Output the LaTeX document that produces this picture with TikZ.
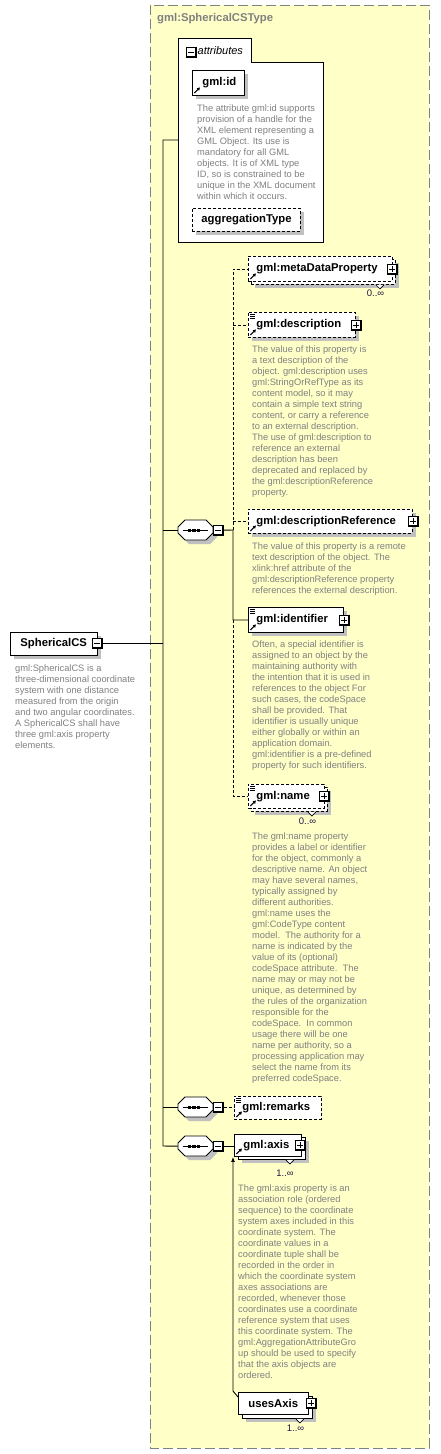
\documentclass[tikz,border=0pt]{standalone}
\usepackage{fontspec}
\setmainfont{Liberation Sans}
\usetikzlibrary{shadows,arrows.meta}
\definecolor{typeyellow}{RGB}{255,255,200}
\definecolor{descgray}{RGB}{128,128,128}
\definecolor{shadowgray}{RGB}{192,192,192}
\definecolor{bordergray}{RGB}{128,128,128}
\definecolor{occcol}{RGB}{40,20,70}
\newcommand\fs{\rule{0pt}{8pt}}
\newcommand\xrefic{\draw[solid,line width=1pt,-{Triangle[length=3pt,width=3.2pt]}] ([shift={(2pt,2.5pt)}]path picture bounding box.south west) -- ++(5.5pt,5.5pt);}
\newcommand\xsimic{\foreach \kk in {2,4,6}{\draw[solid,line width=0.7pt] ([shift={(1.5pt,-\kk pt)}]path picture bounding box.north west) -- ++(5pt,0pt);}}
\newcommand\seqgroup[3]{%
  \fill[shadowgray, shift={(4,4)}] (#2+7,#3) -- (#2+28,#3) -- (#2+35,#3+7) -- (#2+35,#3+13) -- (#2+28,#3+20) -- (#2+7,#3+20) -- (#2,#3+13) -- (#2,#3+7) -- cycle;
  \draw[fill=white, line width=0.9pt] (#2+7,#3) -- (#2+28,#3) -- (#2+35,#3+7) -- (#2+35,#3+13) -- (#2+28,#3+20) -- (#2+7,#3+20) -- (#2,#3+13) -- (#2,#3+7) -- cycle;
  \node[inner sep=0pt, minimum width=35pt, minimum height=20pt, anchor=north west] (#1) at (#2,#3) {};
  \draw[line width=0.9pt] ([xshift=5pt]#1.west) -- ([xshift=-5pt]#1.east);
  \foreach \dd in {11.5,16,20.5} \fill ([xshift=\dd pt]#1.west) +(-1.6pt,-1.6pt) rectangle +(1.6pt,1.6pt);
  \node[minusic] (#1m) at ([xshift=5pt]#1.east) {};
}
\tikzset{
  elem/.style={draw, fill=white, line width=0.9pt, anchor=north west, inner xsep=0pt, inner ysep=0pt, align=left, font=\fontsize{11.3}{13}\selectfont\bfseries},
  opt/.style={dash pattern=on 3pt off 2pt},
  shad/.style={drop shadow={shadow xshift=4pt, shadow yshift=-4pt, fill=shadowgray, opacity=1}},
  refic/.style={path picture={\xrefic}},
  refsim/.style={path picture={\xrefic\xsimic}},
  desc/.style={anchor=north west, inner sep=0pt, align=left, text=descgray, font=\fontsize{9.3}{11}\selectfont},
  occ/.style={inner sep=0pt, text=occcol, font=\fontsize{9.5}{11}\selectfont},
  icon/.style={draw, fill=white, line width=0.8pt, minimum width=10pt, minimum height=10pt, inner sep=0pt},
  plusic/.style={icon, path picture={
      \draw[line width=0.8pt] ([xshift=2pt]path picture bounding box.west) -- ([xshift=-2pt]path picture bounding box.east);
      \draw[line width=0.8pt] ([yshift=-2pt]path picture bounding box.north) -- ([yshift=2pt]path picture bounding box.south);
      \draw[line width=2.4pt] (path picture bounding box.north east) -- (path picture bounding box.south east) -- (path picture bounding box.south west);}},
  minusic/.style={icon, path picture={
      \draw[line width=0.8pt] ([xshift=2pt]path picture bounding box.west) -- ([xshift=-2pt]path picture bounding box.east);
      \draw[line width=2.4pt] (path picture bounding box.north east) -- (path picture bounding box.south east) -- (path picture bounding box.south west);}},
  conn/.style={line width=0.9pt},
  optline/.style={dash pattern=on 3pt off 2pt},
  notch/.style={fill=white, line width=0.7pt},
}
\begin{document}
\begin{tikzpicture}[x=1pt,y=-1pt]
\useasboundingbox (0,0) rectangle (440,1454);
% complex type box
\draw[fill=typeyellow, draw=bordergray, line width=1pt, dash pattern=on 10pt off 4pt] (150,5) rectangle (429,1448);
\node[anchor=west, inner sep=0pt, text=bordergray, font=\fontsize{11.3}{13}\selectfont\bfseries] (typetitle) at (157,19) {gml:SphericalCSType};

% attributes group
\draw[fill=white, line width=0.9pt] (178,242) -- (178,38) -- (251,38) -- (251,62) -- (323,62) -- (323,242) -- cycle;
\node[minusic] (attrm) at (191,52.5) {};
\node[anchor=west, inner sep=0pt, font=\fontsize{11}{13}\selectfont\itshape] (attrt) at (197.5,50.5) {attributes};
\coordinate (attrL) at (178,140);
\node[elem, shad, refic, text width=52pt, minimum height=25pt] (gmlid) at (192,70) {\hspace*{10pt}gml:id};
\node[desc] (gmliddesc) at (197,103) {\fs The attribute gml:id supports\\provision of a handle for the\\XML element representing a\\GML Object. Its use is\\mandatory for all GML\\objects. It is of XML type\\ID, so is constrained to be\\unique in the XML document\\within which it occurs.};
\node[elem, shad, opt, text width=108pt, minimum height=23pt] (aggr) at (192,208) {\hspace*{9pt}aggregationType};

% root element
\node[elem, shad, text width=87pt, minimum height=23pt] (scs) at (10,632) {\hspace*{10pt}SphericalCS};
\node[minusic] (scsm) at (97,643.5) {};
\node[desc] (scsdesc) at (15,663) {\fs gml:SphericalCS is a\\three-dimensional coordinate\\system with one distance\\measured from the origin\\and two angular coordinates.\\A SphericalCS shall have\\three gml:axis property\\elements.};

% sequences
\seqgroup{seq1}{178}{520}
\seqgroup{seq2}{178}{1097}
\seqgroup{seq3}{178}{1136}

% metaDataProperty
\node[elem, shad, opt, text width=144pt, minimum height=25pt] (metab) at (251,259) {};
\draw[notch] ([xshift=-20pt]metab.south east) -- ++(4pt,-4pt) -- ++(4pt,4pt);
\node[elem, opt, refic, text width=144pt, minimum height=25pt] (meta) at (248,256) {\hspace*{8pt}gml:metaDataProperty};
\node[plusic] (metap) at ([xshift=-1pt]meta.east) {};
\node[occ] (metaocc) at (375.5,293) {0..∞};

% description
\node[elem, shad, opt, refsim, text width=107pt, minimum height=25pt] (desc) at (248,312) {\hspace*{8pt}gml:description};
\node[plusic] (descp) at (desc.east) {};
\node[desc] (descdesc) at (252,344) {\fs The value of this property is\\a text description of the\\object. gml:description uses\\gml:StringOrRefType as its\\content model, so it may\\contain a simple text string\\content, or carry a reference\\to an external description.\\The use of gml:description to\\reference an external\\description has been\\deprecated and replaced by\\the gml:descriptionReference\\property.};

% descriptionReference
\node[elem, shad, opt, refic, text width=164pt, minimum height=24pt] (descref) at (248,509) {\hspace*{8pt}gml:descriptionReference};
\node[plusic] (descrefp) at (descref.east) {};
\node[desc] (descrefdesc) at (252,541) {\fs The value of this property is a remote\\text description of the object. The\\xlink:href attribute of the\\gml:descriptionReference property\\references the external description.};

% identifier
\node[elem, shad, refsim, text width=95pt, minimum height=25pt] (ident) at (248,607) {\hspace*{8pt}gml:identifier};
\node[plusic] (identp) at (ident.east) {};
\node[desc] (identdesc) at (252,639.5) {\fs Often, a special identifier is\\assigned to an object by the\\maintaining authority with\\the intention that it is used in\\references to the object For\\such cases, the codeSpace\\shall be provided. That\\identifier is usually unique\\either globally or within an\\application domain.\\gml:identifier is a pre-defined\\property for such identifiers.};

% name
\node[elem, shad, opt, text width=76pt, minimum height=24pt] (nameb) at (251,787) {};
\draw[notch] ([xshift=-20pt]nameb.south east) -- ++(4pt,-4pt) -- ++(4pt,4pt);
\node[elem, opt, refsim, text width=76pt, minimum height=24pt] (name) at (248,784) {\hspace*{8pt}gml:name};
\node[plusic] (namep) at ([xshift=-1pt]name.east) {};
\node[occ] (nameocc) at (307.5,821) {0..∞};
\node[desc] (namedesc) at (252,831) {\fs The gml:name property\\provides a label or identifier\\for the object, commonly a\\descriptive name. An object\\may have several names,\\typically assigned by\\different authorities.\\gml:name uses the\\gml:CodeType content\\model.\ \ The authority for a\\name is indicated by the\\value of its (optional)\\codeSpace attribute.\ \ The\\name may or may not be\\unique, as determined by\\the rules of the organization\\responsible for the\\codeSpace.\ \ In common\\usage there will be one\\name per authority, so a\\processing application may\\select the name from its\\preferred codeSpace.};

% remarks
\node[elem, opt, refsim, text width=87pt, minimum height=23pt] (remarks) at (234,1096) {\hspace*{8pt}gml:remarks};

% axis
\node[elem, shad, text width=67pt, minimum height=22pt] (axisb) at (238,1137) {};
\draw[notch] ([xshift=-20pt]axisb.south east) -- ++(4pt,-4pt) -- ++(4pt,4pt);
\node[elem, refic, text width=67pt, minimum height=22pt] (axis) at (234,1134) {\hspace*{9pt}gml:axis};
\node[plusic] (axisp) at ([xshift=-2pt]axis.east) {};
\node[occ] (axisocc) at (285,1173) {1..∞};
\node[desc] (axisdesc) at (238,1183.5) {\fs The gml:axis property is an\\association role (ordered\\sequence) to the coordinate\\system axes included in this\\coordinate system. The\\coordinate values in a\\coordinate tuple shall be\\recorded in the order in\\which the coordinate system\\axes associations are\\recorded, whenever those\\coordinates use a coordinate\\reference system that uses\\this coordinate system. The\\gml:AggregationAttributeGro\\up should be used to specify\\that the axis objects are\\ordered.};

% usesAxis
\node[elem, shad, text width=70pt, minimum height=22pt] (usesb) at (242,1396) {};
\draw[notch] ([xshift=-17pt]usesb.south east) -- ++(4pt,-4pt) -- ++(4pt,4pt);
\node[elem, text width=70pt, minimum height=22pt] (uses) at (238,1392) {\hspace*{10pt}usesAxis};
\node[plusic] (usesp) at ([xshift=2pt]uses.east) {};
\node[occ] (usesocc) at (295.5,1428) {1..∞};

% connectors
\coordinate (v1t) at (163,140);
\coordinate (v1b) at (163,1146);
\draw[conn] (scsm.east) -- (scsm.east -| v1t);
\draw[conn] (attrL) -- (v1t) -- (v1b) -- (seq3.west);
\draw[conn] (seq1.west -| v1t) -- (seq1.west);
\draw[conn] (seq2.west -| v1t) -- (seq2.west);
\coordinate (v2) at (233,530);
\draw[conn] (seq1m.east) -- (v2) -- (v2 |- ident.west) -- (ident.west);
\draw[conn, optline] (v2) -- (v2 |- meta.west) -- (meta.west);
\draw[conn, optline] (v2 |- desc.west) -- (desc.west);
\draw[conn, optline] (v2 |- descref.west) -- (descref.west);
\draw[conn, optline] (v2 |- ident.west) -- (v2 |- name.west) -- (name.west);
\draw[conn, optline] (seq2m.east) -- (seq2m.east -| remarks.west);
\draw[conn] (seq3m.east) -- (seq3m.east -| axis.west);
\coordinate (ua) at (233,1391);
\draw[conn, -{Latex[length=5pt,width=4pt]}] ([yshift=-5pt]uses.north west) -- (ua) -- (ua |- axis.south);
\end{tikzpicture}
\end{document}
